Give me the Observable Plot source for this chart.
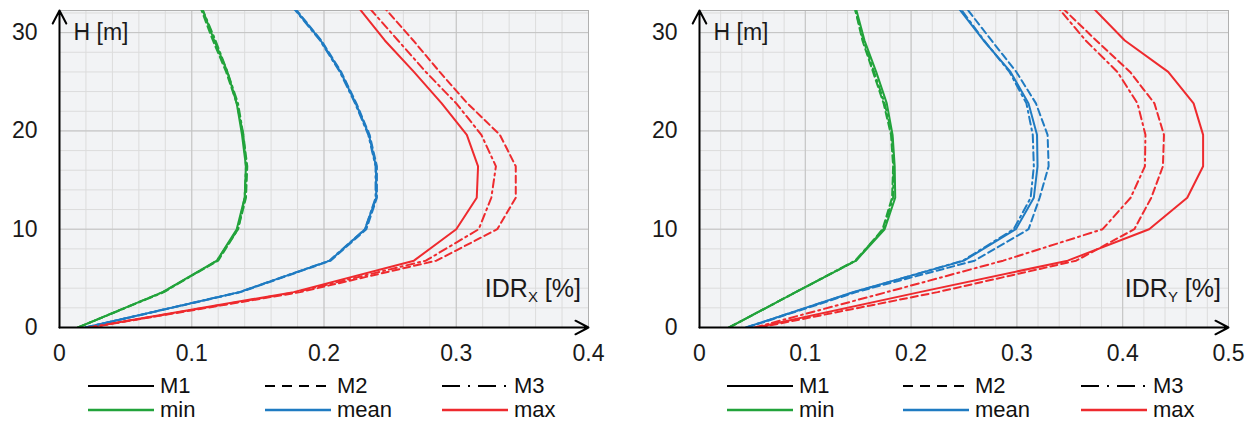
<!DOCTYPE html>
<html><head><meta charset="utf-8">
<script src="https://cdn.jsdelivr.net/npm/d3@7"></script>
<script src="https://cdn.jsdelivr.net/npm/@observablehq/plot@0.6"></script>
<style>
body{margin:0;background:#fff;font-family:"Liberation Sans",Arial,sans-serif;}
#wrap{position:relative;width:1255px;height:427px;overflow:hidden;background:#fff;}
.panel{position:absolute;top:0;}
.leg{position:absolute;display:flex;align-items:center;height:24px;font-size:22px;color:#111;white-space:nowrap;}
.leg svg{display:block;margin-right:6px;}
</style></head><body><div id="wrap"></div>
<script>
// ---------- data ----------
const heights = [0, 3.6, 6.8, 10, 13.2, 16.4, 19.6, 22.8, 26, 29.2, 32.4];
const models = ["M1", "M2", "M3"];
const series = ["min", "mean", "max"];
const seriesColors = ["#22a33b", "#1f7bc2", "#ee2a2e"];

// Left panel: IDR_X [%]
const idrX_min_M1  = [0.014, 0.078, 0.119, 0.134, 0.140, 0.141, 0.138, 0.134, 0.127, 0.117, 0.108];
const idrX_min_M2  = [0.014, 0.078, 0.120, 0.135, 0.141, 0.142, 0.139, 0.134, 0.126, 0.116, 0.107];
const idrX_min_M3  = [0.014, 0.079, 0.119, 0.135, 0.140, 0.141, 0.139, 0.135, 0.127, 0.118, 0.108];
const idrX_mean_M1 = [0.0195, 0.136, 0.2045, 0.231, 0.2395, 0.2393, 0.234, 0.224, 0.2125, 0.1975, 0.178];
const idrX_mean_M2 = [0.020, 0.137, 0.205, 0.232, 0.240, 0.240, 0.2345, 0.2245, 0.213, 0.198, 0.1785];
const idrX_mean_M3 = [0.0195, 0.136, 0.204, 0.231, 0.239, 0.239, 0.2335, 0.2235, 0.212, 0.197, 0.1775];
const idrX_max_M1  = [0.022, 0.177, 0.268, 0.300, 0.3155, 0.3165, 0.308, 0.289, 0.268, 0.246, 0.227];
const idrX_max_M2  = [0.023, 0.182, 0.285, 0.331, 0.345, 0.345, 0.333, 0.3085, 0.2875, 0.2675, 0.2465];
const idrX_max_M3  = [0.022, 0.179, 0.277, 0.317, 0.3265, 0.330, 0.319, 0.300, 0.277, 0.256, 0.235];

// Right panel: IDR_Y [%]
const idrY_min_M1  = [0.028, 0.091, 0.148, 0.175, 0.185, 0.1845, 0.1825, 0.177, 0.167, 0.156, 0.148];
const idrY_min_M2  = [0.028, 0.091, 0.148, 0.173, 0.182, 0.183, 0.181, 0.174, 0.164, 0.154, 0.147];
const idrY_min_M3  = [0.028, 0.091, 0.147, 0.174, 0.183, 0.1835, 0.182, 0.175, 0.165, 0.155, 0.147];
const idrY_mean_M1 = [0.044, 0.145, 0.250, 0.299, 0.316, 0.3195, 0.319, 0.311, 0.294, 0.2685, 0.2455];
const idrY_mean_M2 = [0.045, 0.148, 0.260, 0.311, 0.3215, 0.330, 0.329, 0.318, 0.2995, 0.276, 0.253];
const idrY_mean_M3 = [0.044, 0.146, 0.249, 0.297, 0.313, 0.316, 0.315, 0.309, 0.293, 0.269, 0.247];
const idrY_max_M1  = [0.054, 0.208, 0.348, 0.425, 0.461, 0.476, 0.476, 0.467, 0.443, 0.402, 0.373];
const idrY_max_M2  = [0.057, 0.225, 0.356, 0.411, 0.427, 0.438, 0.439, 0.430, 0.407, 0.375, 0.344];
const idrY_max_M3  = [0.052, 0.177, 0.287, 0.381, 0.4075, 0.421, 0.4215, 0.414, 0.395, 0.365, 0.340];

const xTicksLeft = [0, 0.1, 0.2, 0.3, 0.4];
const xTicksRight = [0, 0.1, 0.2, 0.3, 0.4, 0.5];
const yTicks = [0, 10, 20, 30];
const yLabel = "H [m]";
const xLabelMain = "IDR";
const xLabelSubLeft = "X";
const xLabelSubRight = "Y";
const xLabelUnit = " [%]";

// ---------- build tables ----------
function build(groups) {
  const out = [];
  series.forEach((s, si) => models.forEach((m, mi) => {
    groups[si][mi].forEach((v, i) => out.push({h: heights[i], v, series: s, model: m}));
  }));
  return out;
}
const dataLeft = build([
  [idrX_min_M1, idrX_min_M2, idrX_min_M3],
  [idrX_mean_M1, idrX_mean_M2, idrX_mean_M3],
  [idrX_max_M1, idrX_max_M2, idrX_max_M3]
]);
const dataRight = build([
  [idrY_min_M1, idrY_min_M2, idrY_min_M3],
  [idrY_mean_M1, idrY_mean_M2, idrY_mean_M3],
  [idrY_max_M1, idrY_max_M2, idrY_max_M3]
]);

const yTop = 32.25;
const curveDash = [null, "7,4", "8,4,2,4"];
const legendDash = [null, "10,7", "18,8,2,8"];

function panel({data, width, marginLeft, marginRight, xTicks, sub}) {
  const xMax = xTicks[xTicks.length - 1];
  const minorX = d3.range(0, Math.round(xMax / 0.02) + 1).map(i => +(i * 0.02).toFixed(2));
  const minorY = d3.range(0, Math.floor(yTop / 2) + 1).map(i => i * 2);
  const axes = [{x1: 0, y1: 0, x2: 0, y2: yTop}, {x1: 0, y1: 0, x2: xMax, y2: 0}];
  const svg = Plot.plot({
    width, height: 372,
    marginLeft, marginRight, marginTop: 10, marginBottom: 45,
    x: {domain: [0, xMax]},
    y: {domain: [0, yTop]},
    color: {domain: series, range: seriesColors},
    style: {fontFamily: "Liberation Sans, Arial, sans-serif", fontSize: "23px", color: "#1a1a1a", background: "transparent"},
    marks: [
      Plot.frame({fill: "#f2f3f5"}),
      Plot.gridX(minorX, {stroke: "#dcdcdc", strokeOpacity: 1, strokeWidth: 1}),
      Plot.gridY(minorY, {stroke: "#dcdcdc", strokeOpacity: 1, strokeWidth: 1}),
      Plot.gridX(xTicks, {stroke: "#c3c3c3", strokeOpacity: 1, strokeWidth: 1}),
      Plot.gridY(yTicks, {stroke: "#c3c3c3", strokeOpacity: 1, strokeWidth: 1}),
      Plot.frame({stroke: "#b0b0b0", strokeWidth: 1}),
      ...models.map((m, i) => Plot.line(data.filter(d => d.model === m), {
        x: "v", y: "h", z: "series", stroke: "series", strokeWidth: 2,
        strokeDasharray: curveDash[i], clip: true
      })),
      Plot.axisX(xTicks, {tickSize: 0, tickPadding: 17, tickFormat: d => String(d), label: null, fontSize: 23}),
      Plot.axisY(yTicks, {tickSize: 0, tickPadding: 22, label: null, fontSize: 23}),
      Plot.arrow(axes, {x1: "x1", y1: "y1", x2: "x2", y2: "y2", stroke: "#000", strokeWidth: 2, headLength: 11, headAngle: 55}),
      Plot.text([yLabel], {frameAnchor: "top-left", dx: 14, dy: 13, lineAnchor: "top", textAnchor: "start", fontSize: 23, fill: "#1a1a1a"})
    ]
  });
  // axis title with subscript
  const t = d3.select(svg).append("text")
    .attr("x", width - marginRight - 7)
    .attr("y", 372 - 45 - 30)
    .attr("text-anchor", "end")
    .attr("fill", "#1a1a1a")
    .attr("font-size", 25);
  t.append("tspan").text(xLabelMain);
  t.append("tspan").attr("font-size", 15).attr("dy", 5).text(sub);
  t.append("tspan").attr("dy", -5).text(xLabelUnit);
  return svg;
}

const wrap = document.getElementById("wrap");
const left = panel({data: dataLeft, width: 620, marginLeft: 59, marginRight: 32, xTicks: xTicksLeft, sub: xLabelSubLeft});
left.classList.add("panel"); left.style.left = "0px";
wrap.appendChild(left);
const right = panel({data: dataRight, width: 635, marginLeft: 79, marginRight: 27, xTicks: xTicksRight, sub: xLabelSubRight});
right.classList.add("panel"); right.style.left = "620px";
wrap.appendChild(right);

// ---------- legends ----------
function legend(cols) {
  const rows = [
    {y: 386, items: models.map((m, i) => ({label: m, color: "#000", dash: legendDash[i], w: 1.8}))},
    {y: 410, items: series.map((s, i) => ({label: s, color: seriesColors[i], dash: null, w: 2.5}))}
  ];
  rows.forEach(r => r.items.forEach((it, i) => {
    const div = document.createElement("div");
    div.className = "leg";
    div.style.left = cols[i] + "px";
    div.style.top = (r.y - 12) + "px";
    const ns = "http://www.w3.org/2000/svg";
    const s = document.createElementNS(ns, "svg");
    s.setAttribute("width", 66); s.setAttribute("height", 6);
    const ln = document.createElementNS(ns, "line");
    ln.setAttribute("x1", 0); ln.setAttribute("x2", 66);
    ln.setAttribute("y1", 3); ln.setAttribute("y2", 3);
    ln.setAttribute("stroke", it.color); ln.setAttribute("stroke-width", it.w);
    if (it.dash) ln.setAttribute("stroke-dasharray", it.dash);
    s.appendChild(ln);
    div.appendChild(s);
    const sp = document.createElement("span");
    sp.textContent = it.label;
    div.appendChild(sp);
    wrap.appendChild(div);
  }));
}
legend([88, 265, 442]);
legend([727, 903, 1081]);
</script></body></html>
